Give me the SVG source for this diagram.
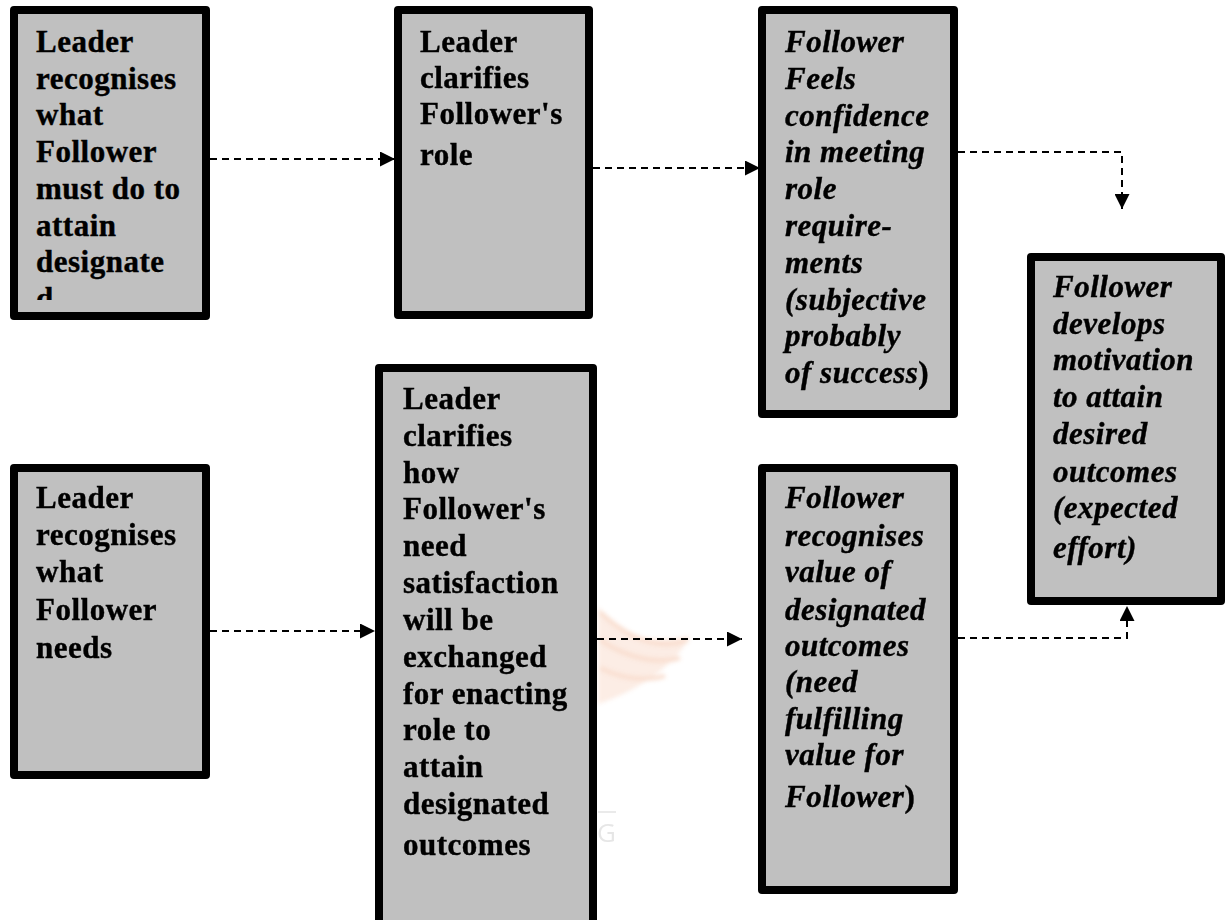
<svg xmlns="http://www.w3.org/2000/svg" width="1229" height="920" viewBox="0 0 1229 920">
  <style>
    .box { fill: #c0c0c0; stroke: #000; stroke-width: 8; stroke-linejoin: round; }
    .t { font-family: "Liberation Serif", "Times New Roman", serif; font-size: 31px; font-weight: bold; fill: #000; stroke: #000; stroke-width: 0.4px; letter-spacing: 0.5px; }
    .it { font-style: italic; }
    .up { font-style: normal; }
    .conn { fill: none; stroke: #000; stroke-width: 2; stroke-dasharray: 7 5; }
  </style>
  <defs>
    <marker id="arrow" markerUnits="userSpaceOnUse" markerWidth="15" markerHeight="15" refX="15" refY="7.5" orient="auto">
      <path d="M0,0 L15,7.5 L0,15 Z" fill="#000"/>
    </marker>
    <clipPath id="clip-n1">
      <rect x="18" y="14" width="184" height="286"/>
    </clipPath>
    <filter id="soft" x="-20%" y="-20%" width="140%" height="140%">
      <feGaussianBlur stdDeviation="2"/>
    </filter>
  </defs>

  <rect width="1229" height="920" fill="#fff"/>

  <!-- faint background logo -->
  <g id="watermark" opacity="0.45">
    <g filter="url(#soft)" fill="#f2b493">
      <path d="M598,606 C612,630 640,646 690,636 C676,664 640,690 598,704 Z" opacity="0.55"/>
      <path d="M600,612 C630,640 660,650 688,640" fill="none" stroke="#f2b493" stroke-width="4"/>
      <path d="M600,640 C630,660 660,664 680,658" fill="none" stroke="#f2b493" stroke-width="4"/>
      <path d="M600,668 C625,680 645,682 665,676" fill="none" stroke="#f2b493" stroke-width="4"/>
    </g>
    <line x1="598" y1="812" x2="616" y2="812" stroke="#d0d0d0" stroke-width="2"/>
    <text x="597" y="842" font-family="Open Sans, sans-serif" font-size="26" fill="#c8c8c8">G</text>
  </g>

  <!-- connectors -->
  <g id="connectors">
    <path class="conn" d="M210,159 H395" marker-end="url(#arrow)"/>
    <path class="conn" d="M593,168 H760" marker-end="url(#arrow)"/>
    <path class="conn" d="M958,152 H1122 V209" marker-end="url(#arrow)"/>
    <path class="conn" d="M210,631 H375" marker-end="url(#arrow)"/>
    <path class="conn" d="M597,639 H742" marker-end="url(#arrow)"/>
    <path class="conn" d="M958,638 H1127 V606" marker-end="url(#arrow)"/>
  </g>

  <!-- top-left: leader recognises required effort -->
  <g id="n1">
    <rect class="box" x="14" y="10" width="192" height="306"/>
    <text class="t" clip-path="url(#clip-n1)">
      <tspan x="36" y="52">Leader</tspan>
      <tspan x="36" y="88.7">recognises</tspan>
      <tspan x="36" y="125.4">what</tspan>
      <tspan x="36" y="162">Follower</tspan>
      <tspan x="36" y="198.8">must do to</tspan>
      <tspan x="36" y="235.5">attain</tspan>
      <tspan x="36" y="272">designate</tspan>
      <tspan x="36" y="309">d</tspan>
    </text>
  </g>

  <g id="n2">
    <rect class="box" x="398" y="10" width="191" height="305"/>
    <text class="t">
      <tspan x="420" y="52">Leader</tspan>
      <tspan x="420" y="88">clarifies</tspan>
      <tspan x="420" y="124">Follower's</tspan>
      <tspan x="420" y="165">role</tspan>
    </text>
  </g>

  <g id="n3">
    <rect class="box" x="762" y="10" width="192" height="404"/>
    <text class="t it">
      <tspan x="785" y="52">Follower</tspan>
      <tspan x="785" y="88.8">Feels</tspan>
      <tspan x="785" y="125.6">confidence</tspan>
      <tspan x="785" y="162.4">in meeting</tspan>
      <tspan x="785" y="199.2">role</tspan>
      <tspan x="785" y="236">require-</tspan>
      <tspan x="785" y="272.8">ments</tspan>
      <tspan x="785" y="309.6">(subjective</tspan>
      <tspan x="785" y="346.4">probably</tspan>
      <tspan x="785" y="383">of success<tspan class="up">)</tspan></tspan>
    </text>
  </g>

  <g id="n4">
    <rect class="box" x="1031" y="257" width="190" height="344"/>
    <text class="t it">
      <tspan x="1053" y="297">Follower</tspan>
      <tspan x="1053" y="333.5">develops</tspan>
      <tspan x="1053" y="370">motivation</tspan>
      <tspan x="1053" y="407">to attain</tspan>
      <tspan x="1053" y="444">desired</tspan>
      <tspan x="1053" y="481.5">outcomes</tspan>
      <tspan x="1053" y="518">(expected</tspan>
      <tspan x="1053" y="558">effort)</tspan>
    </text>
  </g>

  <g id="n5">
    <rect class="box" x="762" y="468" width="192" height="422"/>
    <text class="t it">
      <tspan x="785" y="508">Follower</tspan>
      <tspan x="785" y="545.5">recognises</tspan>
      <tspan x="785" y="582">value of</tspan>
      <tspan x="785" y="619.5">designated</tspan>
      <tspan x="785" y="656">outcomes</tspan>
      <tspan x="785" y="692">(need</tspan>
      <tspan x="785" y="728.5">fulfilling</tspan>
      <tspan x="785" y="765">value for</tspan>
      <tspan x="785" y="807">Follower<tspan class="up">)</tspan></tspan>
    </text>
  </g>

  <g id="n6">
    <rect class="box" x="14" y="468" width="192" height="307"/>
    <text class="t">
      <tspan x="36" y="508">Leader</tspan>
      <tspan x="36" y="545">recognises</tspan>
      <tspan x="36" y="582">what</tspan>
      <tspan x="36" y="620">Follower</tspan>
      <tspan x="36" y="658">needs</tspan>
    </text>
  </g>

  <g id="n7">
    <rect class="box" x="379" y="368" width="214" height="556"/>
    <text class="t">
      <tspan x="403" y="409">Leader</tspan>
      <tspan x="403" y="446">clarifies</tspan>
      <tspan x="403" y="483">how</tspan>
      <tspan x="403" y="519">Follower's</tspan>
      <tspan x="403" y="556">need</tspan>
      <tspan x="403" y="593">satisfaction</tspan>
      <tspan x="403" y="630">will be</tspan>
      <tspan x="403" y="667">exchanged</tspan>
      <tspan x="403" y="704">for enacting</tspan>
      <tspan x="403" y="740">role to</tspan>
      <tspan x="403" y="777">attain</tspan>
      <tspan x="403" y="814">designated</tspan>
      <tspan x="403" y="855">outcomes</tspan>
    </text>
  </g>
</svg>
